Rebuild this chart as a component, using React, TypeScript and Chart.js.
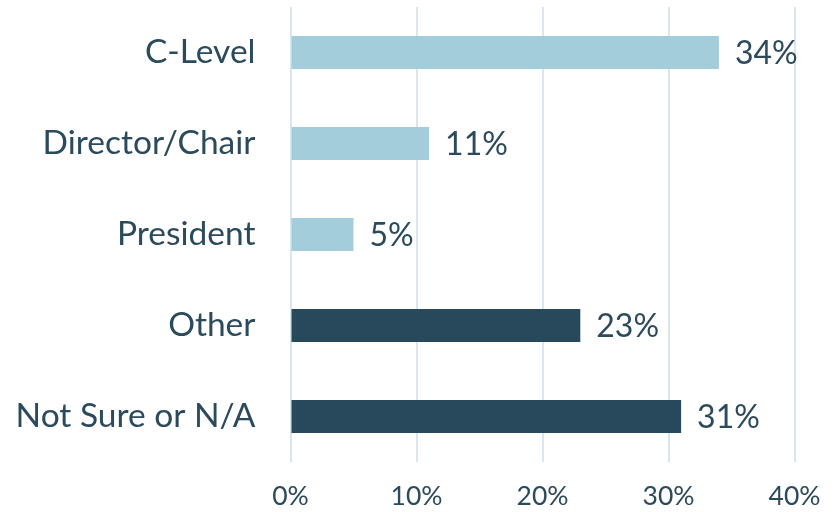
import React, { useEffect, useRef } from "react";
import { Chart, registerables } from "chart.js";

Chart.register(...registerables);

const categories = ["C-Level", "Director/Chair", "President", "Other", "Not Sure or N/A"];
const values = [34, 11, 5, 23, 31];
const barColors = ["#A4CDDB", "#A4CDDB", "#A4CDDB", "#28495B", "#28495B"];
const xTicks = [0, 10, 20, 30, 40];

const TEXT = "#2B4A5C";
const FONT = "Lato";

const valueLabels = {
  id: "valueLabels",
  afterDatasetsDraw(chart: any) {
    const ctx = chart.ctx;
    const meta = chart.getDatasetMeta(0);
    ctx.save();
    ctx.font = `32px ${FONT}`;
    ctx.fillStyle = TEXT;
    ctx.textAlign = "left";
    ctx.textBaseline = "middle";
    meta.data.forEach((el: any, i: number) => {
      ctx.fillText(values[i] + "%", el.x + 16, el.y + 1);
    });
    ctx.restore();
  },
};

export default function App() {
  const ref = useRef<HTMLCanvasElement | null>(null);
  useEffect(() => {
    document.body.style.margin = "0";
    const chart = new Chart(ref.current as HTMLCanvasElement, {
      type: "bar",
      data: {
        labels: categories,
        datasets: [
          {
            data: values,
            backgroundColor: barColors,
            categoryPercentage: 1,
            barPercentage: 0.363,
          },
        ],
      },
      options: {
        indexAxis: "y",
        responsive: false,
        animation: false,
        layout: { padding: { top: 7, right: 39.5, left: 0, bottom: 0 } },
        plugins: { legend: { display: false }, tooltip: { enabled: false } },
        scales: {
          x: {
            min: 0,
            max: 40,
            afterBuildTicks: (s: any) => {
              s.ticks = xTicks.map((v) => ({ value: v }));
            },
            afterFit: (s: any) => {
              s.height = 50;
              s.paddingLeft = 0;
              s.paddingRight = 0;
            },
            ticks: {
              callback: (v: any) => v + "%",
              color: TEXT,
              font: { family: FONT, size: 26.5 },
              padding: 19,
              maxRotation: 0,
            },
            grid: { color: "#D8E6EE", lineWidth: 2, drawTicks: false },
            border: { display: false },
          },
          y: {
            afterFit: (s: any) => {
              s.width = 290.5;
              s.paddingTop = 0;
              s.paddingBottom = 0;
            },
            ticks: {
              color: TEXT,
              font: { family: FONT, size: 33.5 },
              padding: 35,
            },
            grid: { display: false, drawTicks: false },
            border: { display: false },
          },
        },
      },
      plugins: [valueLabels],
    });
    return () => chart.destroy();
  }, []);
  return (
    <div style={{ position: "absolute", left: 0, top: 0, width: 834, height: 512 }}>
      <canvas ref={ref} width={834} height={512} />
    </div>
  );
}
